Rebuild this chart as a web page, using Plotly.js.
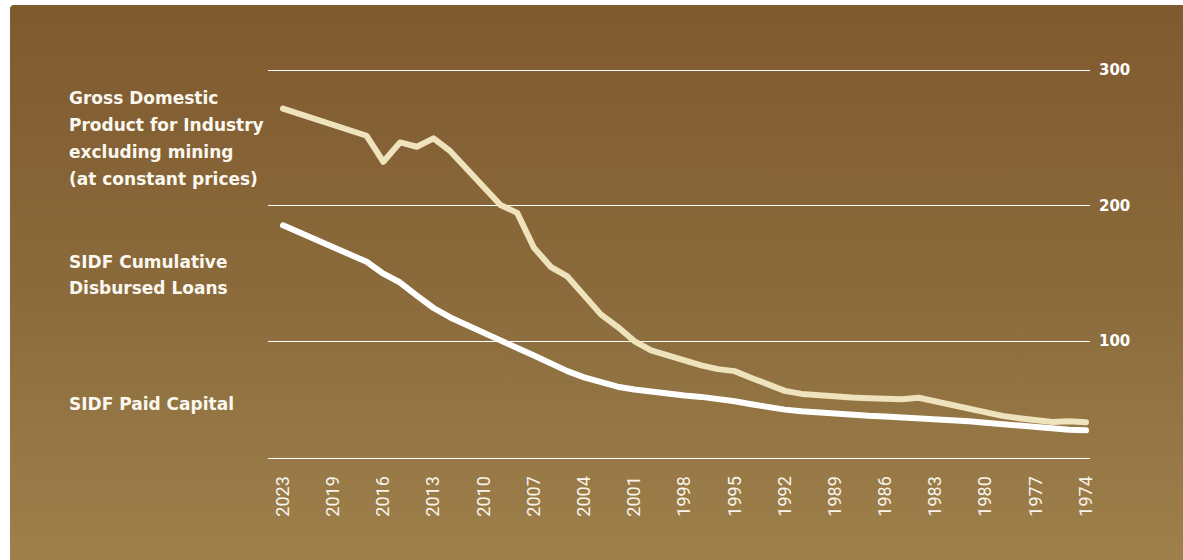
<!DOCTYPE html>
<html>
<head>
<meta charset="utf-8">
<script src="https://cdn.plot.ly/plotly-3.0.1.min.js"></script>
<style>
  html, body { margin: 0; padding: 0; background: #ffffff; }
  #wrap { position: relative; width: 1183px; height: 560px; overflow: hidden; }
  #panel { position: absolute; left: 10px; top: 5px; right: 0; bottom: 0;
           border-radius: 4px 0 0 0;
           background: linear-gradient(180deg, #7f5a2f 0%, #8a6a3b 50%, #9e804c 100%); }
  #chart { position: absolute; left: 0; top: 0; width: 1183px; height: 560px; }
  #chart .scatterlayer .js-line { stroke-linecap: round; stroke-linejoin: round; }
</style>
</head>
<body>
<div id="wrap">
  <div id="panel"></div>
  <div id="chart"></div>
</div>
<script>
// Categories (left to right, as in the reference)
const years = ['2023','2022','2021','2019','2018','2017','2016','2015','2014','2013',
  '2012','2011','2010','2009','2008','2007','2006','2005','2004','2003',
  '2002','2001','2000','1999','1998','1997','1996','1995','1994','1993',
  '1992','1991','1990','1989','1988','1987','1986','1985','1984','1983',
  '1982','1981','1980','1979','1978','1977','1976','1975','1974'];

const tickLabels = ['2023','2019','2016','2013','2010','2007','2004','2001','1998',
  '1995','1992','1989','1986','1983','1980','1977','1974'];

// Gross Domestic Product for Industry excluding mining (at constant prices)
const gdpIndustry = [271.6,267.4,263.2,259.0,254.8,251.5,232.3,246.6,243.4,249.6,
  240.1,226.9,212.5,200.4,194.6,168.9,154.8,147.7,133.7,119.7,
  110.5,100.0,93.1,89.4,85.4,82.1,79.3,77.8,72.8,67.4,
  63.2,61.0,59.9,58.3,58.3,57.8,57.0,57.0,58.2,55.6,
  52.3,50.1,47.2,44.8,43.1,41.5,40.2,40.9,40.0];

// SIDF Cumulative Disbursed Loans
const sidfLoans = [185.4,180.2,175.0,169.8,164.6,158.5,149.7,143.2,133.6,124.4,
  117.4,111.7,105.2,100.1,94.9,89.4,83.2,77.8,73.2,69.4,
  66.3,64.2,62.4,60.9,59.9,58.8,57.6,55.6,53.4,51.2,
  49.4,48.2,47.2,46.2,45.5,44.8,44.3,43.8,43.1,42.4,
  41.6,40.8,39.7,38.5,37.2,35.9,35.1,34.5,34.1];

const yTicks = [100, 200, 300];

const gdpLabel = ['Gross Domestic', 'Product for Industry', 'excluding mining', '(at constant prices)'];
const loansLabel = ['SIDF Cumulative', 'Disbursed Loans'];
const capitalLabel = ['SIDF Paid Capital'];

const traces = [
  { x: years, y: gdpIndustry, type: 'scatter', mode: 'lines', name: gdpLabel.join(' '),
    line: { color: '#efe3be', width: 6 }, hoverinfo: 'skip' },
  { x: years, y: sidfLoans, type: 'scatter', mode: 'lines', name: loansLabel.join(' '),
    line: { color: '#ffffff', width: 6 }, hoverinfo: 'skip' }
];

// label annotations (pixel rows converted into paper coordinates)
const plotTop = 63, plotBottom = 458, plotLeft = 268, plotRight = 1090;
function py(pix) { return (plotBottom - pix) / (plotBottom - plotTop); }
const labelX = (67 - plotLeft) / (plotRight - plotLeft);
const annotations = [];
function addLines(lines, firstRow, step) {
  lines.forEach((t, i) => {
    annotations.push({ xref: 'paper', yref: 'paper', x: labelX, y: py(firstRow + i * step),
      xanchor: 'left', yanchor: 'middle', showarrow: false, text: t,
      font: { family: 'DejaVu Sans, sans-serif', size: 17, color: '#fbf8f0', weight: 700 } });
  });
}
addLines(gdpLabel, 98, 27);
addLines(loansLabel, 262, 26);
addLines(capitalLabel, 404, 26);

const layout = {
  width: 1183, height: 560,
  paper_bgcolor: 'rgba(0,0,0,0)', plot_bgcolor: 'rgba(0,0,0,0)',
  margin: { l: plotLeft, r: 1183 - plotRight, t: plotTop, b: 560 - plotBottom },
  showlegend: false,
  xaxis: {
    type: 'category', range: [-0.897, 48.24],
    tickmode: 'array', tickvals: tickLabels, ticktext: tickLabels,
    tickangle: -90, ticks: '', ticklabelstandoff: 10,
    showgrid: false, zeroline: false,
    showline: true, linecolor: '#ffffff', linewidth: 1,
    tickfont: { family: 'Roboto, sans-serif', size: 18, color: '#f8f4ea' }
  },
  yaxis: {
    side: 'right', range: [13.7, 305.2],
    tickmode: 'array', tickvals: yTicks, ticktext: yTicks.map(String),
    ticks: '', ticklabelstandoff: 8,
    showgrid: true, gridcolor: '#ffffff', gridwidth: 1,
    zeroline: false, showline: false,
    tickfont: { family: 'DejaVu Sans, sans-serif', size: 15, color: '#ffffff', weight: 700 }
  },
  annotations: annotations
};

Plotly.newPlot('chart', traces, layout, { displayModeBar: false, staticPlot: true });
</script>
</body>
</html>
